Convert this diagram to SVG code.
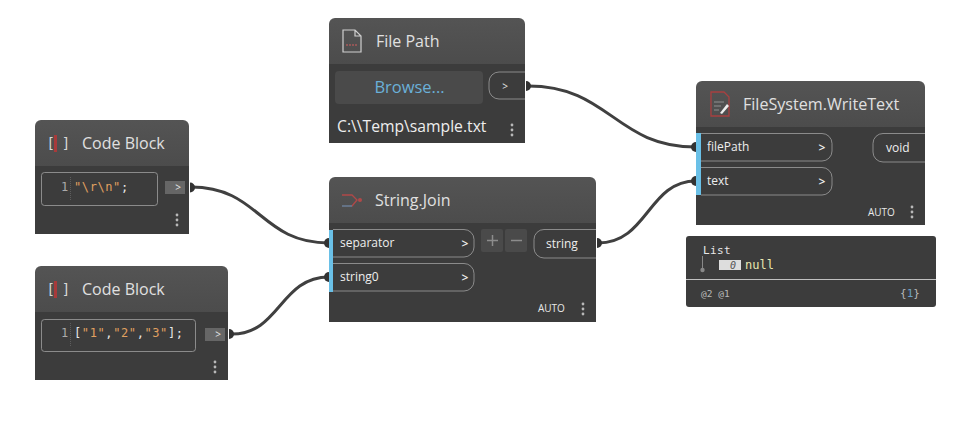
<svg xmlns="http://www.w3.org/2000/svg" width="960" height="426" viewBox="0 0 960 426">
<defs>
<linearGradient id="hd" x1="0" y1="0" x2="0" y2="1"><stop offset="0" stop-color="#545454"/><stop offset="1" stop-color="#4c4c4c"/></linearGradient>
<g id="dots"><circle cx="0" cy="-5" r="1.400"/><circle cx="0" cy="0" r="1.400"/><circle cx="0" cy="5" r="1.400"/></g>
</defs>
<style>
text{font-family:"Open Sans","Noto Sans",sans-serif;white-space:pre}
.body{fill:#3c3c3c}
.head{fill:url(#hd)}
.title{font-size:16px;fill:#e0e0e0}
.port{fill:none;stroke:#a0a0a0;stroke-width:.8}
.pt{font-size:12px;fill:#eeeeee}
.ar{font-size:12px;fill:#eeeeee;font-weight:600}
.blue{fill:#6ac0e7}
.auto{font-size:10px;fill:#e8e8e8}
.dot{fill:#b8b8b8}
.mono{font-family:"DejaVu Sans Mono",monospace;font-size:12px;letter-spacing:.6px}
.brk{font-family:"DejaVu Sans Mono",monospace;font-size:14px;letter-spacing:-.8px;fill:#d8d8d8}
.num{fill:#aaaaaa}
.str{fill:#e0a060}
.pun{fill:#e8e8e8}
.wire{fill:none;stroke:#404040;stroke-width:3}
.cap{fill:#333333}
.icon{fill:none;stroke:#d0d0d0;stroke-width:1.200}
.red{fill:#a83a3a}
.out{fill:#666666}
.gut{stroke:#666;stroke-width:.8;stroke-dasharray:1 1}
</style>
<g id="connectors">
<path class="wire" d="M191 187C260 187 260 243 329 243"/>
<path class="wire" d="M232 334C280 334 280 277 329 277"/>
<path class="wire" d="M528 86C610 86 615 147 696 147"/>
<path class="wire" d="M598 243C648 243 648 181 696 181"/>
</g>
<g id="code-block-1">
<path class="body" d="M35 166H189V234H35Z"/>
<path class="head" d="M35 166V126a6 6 0 0 1 6-6H183a6 6 0 0 1 6 6V166Z"/>
<rect x="54" y="135" width="3" height="17" class="red"/>
<text x="46.500" y="148" class="brk">[ ]</text>
<text x="82" y="149" class="title">Code Block</text>
<rect x="41.500" y="172.500" width="116" height="33" rx="3" class="port"/>
<path d="M70.500 177V201" class="gut"/>
<text x="61" y="191" class="mono num">1</text>
<text x="74" y="191" class="mono"><tspan class="str">"\r\n"</tspan><tspan class="pun">;</tspan></text>
<rect x="165" y="181" width="20" height="13" class="out"/>
<text x="178" y="191" class="auto" text-anchor="middle">&gt;</text>
<path class="cap" d="M190 182.500a5 5 0 0 1 0 10Z"/>
<use href="#dots" x="177" y="220" class="dot"/>
</g>
<g id="code-block-2">
<path class="body" d="M35 312H228V380H35Z"/>
<path class="head" d="M35 312V272a6 6 0 0 1 6-6H222a6 6 0 0 1 6 6V312Z"/>
<rect x="54" y="281" width="3" height="17" class="red"/>
<text x="46.500" y="294" class="brk">[ ]</text>
<text x="82" y="295" class="title">Code Block</text>
<rect x="41.500" y="319.500" width="154" height="32" rx="3" class="port"/>
<path d="M70.500 323V347" class="gut"/>
<text x="61" y="337" class="mono num">1</text>
<text x="74" y="337" class="mono"><tspan class="pun">[</tspan><tspan class="str">"1"</tspan><tspan class="pun">,</tspan><tspan class="str">"2"</tspan><tspan class="pun">,</tspan><tspan class="str">"3"</tspan><tspan class="pun">];</tspan></text>
<rect x="205" y="328" width="20" height="13" class="out"/>
<text x="218" y="338" class="auto" text-anchor="middle">&gt;</text>
<path class="cap" d="M229 329a5 5 0 0 1 0 10Z"/>
<use href="#dots" x="215" y="367" class="dot"/>
</g>
<g id="file-path">
<path class="body" d="M329 64H525V143H329Z"/>
<path class="head" d="M329 64V24a6 6 0 0 1 6-6H519a6 6 0 0 1 6 6V64Z"/>
<path class="icon" d="M343 30H355L361 36V52H343ZM355 30V36H361"/>
<path d="M346 45h11" stroke="#a85a5a" stroke-width="1.500" stroke-dasharray="2 1" fill="none"/>
<text x="376" y="47" class="title">File Path</text>
<rect x="335" y="71" width="148" height="33" rx="4" fill="#4a4a4a"/>
<text x="409.500" y="93" font-size="16.500" fill="#6ab0d8" text-anchor="middle">Browse...</text>
<path class="port" d="M525 72H499a10 10 0 0 0-10 10V89a10 10 0 0 0 10 10H525"/>
<text x="505" y="90" class="auto" text-anchor="middle">&gt;</text>
<path class="cap" d="M526 81a5 5 0 0 1 0 10Z"/>
<text x="337" y="132" font-size="15.700" fill="#eeeeee">C:\\Temp\sample.txt</text>
<use href="#dots" x="512" y="130" class="dot"/>
</g>
<g id="string-join">
<path class="body" d="M329 223H596V322H329Z"/>
<path class="head" d="M329 223V183a6 6 0 0 1 6-6H590a6 6 0 0 1 6 6V223Z"/>
<path d="M342 195H352L357 200L352 206H342" fill="none" stroke="#b04848" stroke-width="1.300"/>
<path d="M342 206H352" fill="none" stroke="#4a8aa8" stroke-width="1.300"/>
<circle cx="360" cy="200" r="2" fill="#b04848"/>
<text x="375" y="206" class="title">String.Join</text>
<rect x="329" y="230" width="4" height="62" class="blue"/>
<path class="port" d="M333 229.500H464a10 10 0 0 1 10 10V247a10 10 0 0 1-10 10H333"/>
<path class="port" d="M333 263.500H464a10 10 0 0 1 10 10V281a10 10 0 0 1-10 10H333"/>
<text x="340" y="247" class="pt">separator</text>
<text x="340" y="281" class="pt">string0</text>
<text x="465" y="248" class="ar" text-anchor="middle">&gt;</text>
<text x="465" y="282" class="ar" text-anchor="middle">&gt;</text>
<path class="cap" d="M329 238a5 5 0 0 0 0 10Z"/>
<path class="cap" d="M329 272a5 5 0 0 0 0 10Z"/>
<rect x="481" y="229" width="22" height="23" rx="2" fill="#4a4a4a"/>
<rect x="505" y="229" width="22" height="23" rx="2" fill="#4a4a4a"/>
<path d="M487 240.500H498M492.500 235V246M511 240.500H522" stroke="#8c8c8c" stroke-width="1.500" fill="none"/>
<path class="port" d="M596 229.500H544a10 10 0 0 0-10 10V248a10 10 0 0 0 10 10H596"/>
<text x="546" y="248" class="pt">string</text>
<path class="cap" d="M597 238a5 5 0 0 1 0 10Z"/>
<text x="538" y="312" class="auto">AUTO</text>
<use href="#dots" x="583" y="309" class="dot"/>
</g>
<g id="write-text">
<path class="body" d="M696 127H925V225H696Z"/>
<path class="head" d="M696 127V87a6 6 0 0 1 6-6H919a6 6 0 0 1 6 6V127Z"/>
<path d="M711 92H724L729 97V116H711Z" fill="none" stroke="#a84040" stroke-width="1.300"/>
<path d="M714 102H724M714 106H721M714 110H719" stroke="#909090" stroke-width="1.200" fill="none"/>
<path d="M720 113L727 104L729 106L722 114Z" fill="#eeeeee"/>
<text x="743" y="110" font-size="16.100" fill="#e0e0e0">FileSystem.WriteText</text>
<rect x="696" y="133" width="5" height="62" class="blue"/>
<path class="port" d="M701 133.500H822a10 10 0 0 1 10 10V151a10 10 0 0 1-10 10H701"/>
<path class="port" d="M701 167.500H822a10 10 0 0 1 10 10V185a10 10 0 0 1-10 10H701"/>
<text x="707" y="151" class="pt">filePath</text>
<text x="707" y="185" class="pt">text</text>
<text x="822" y="152" class="ar" text-anchor="middle">&gt;</text>
<text x="822" y="186" class="ar" text-anchor="middle">&gt;</text>
<path class="cap" d="M696 142a5 5 0 0 0 0 10Z"/>
<path class="cap" d="M696 176a5 5 0 0 0 0 10Z"/>
<path class="port" d="M925 133.500H883a10 10 0 0 0-10 10V152a10 10 0 0 0 10 10H925"/>
<text x="886" y="152" class="pt">void</text>
<text x="868" y="216" class="auto">AUTO</text>
<use href="#dots" x="912" y="212" class="dot"/>
</g>
<g id="watch">
<rect x="686" y="236" width="250" height="71" rx="3" fill="#3c3c3c"/>
<path d="M686 279.500H936" stroke="#c0c0c0" stroke-width="1"/>
<text x="703" y="254" style="font-family:'DejaVu Sans Mono',monospace;letter-spacing:.4px" font-size="11" fill="#e8e8e8">List</text>
<path d="M702.500 256V269" stroke="#888" stroke-width="1"/>
<circle cx="702.500" cy="270" r="2.200" fill="#888"/>
<rect x="719" y="260" width="22" height="10" fill="#dddddd"/>
<text x="733" y="269" style="font-family:'DejaVu Sans Mono',monospace;font-style:italic" font-size="10" fill="#555" text-anchor="middle">0</text>
<text x="745" y="269" style="font-family:'DejaVu Sans Mono',monospace" font-size="12" fill="#e8e8b0">null</text>
<text x="701" y="297" style="font-family:'DejaVu Sans Mono',monospace" font-size="9.500" fill="#b8b8b8">@2 @1</text>
<text x="900" y="297" style="font-family:'DejaVu Sans Mono',monospace" font-size="11" fill="#b8b8b8">{<tspan fill="#6aa0c8">1</tspan>}</text>
</g>
</svg>
